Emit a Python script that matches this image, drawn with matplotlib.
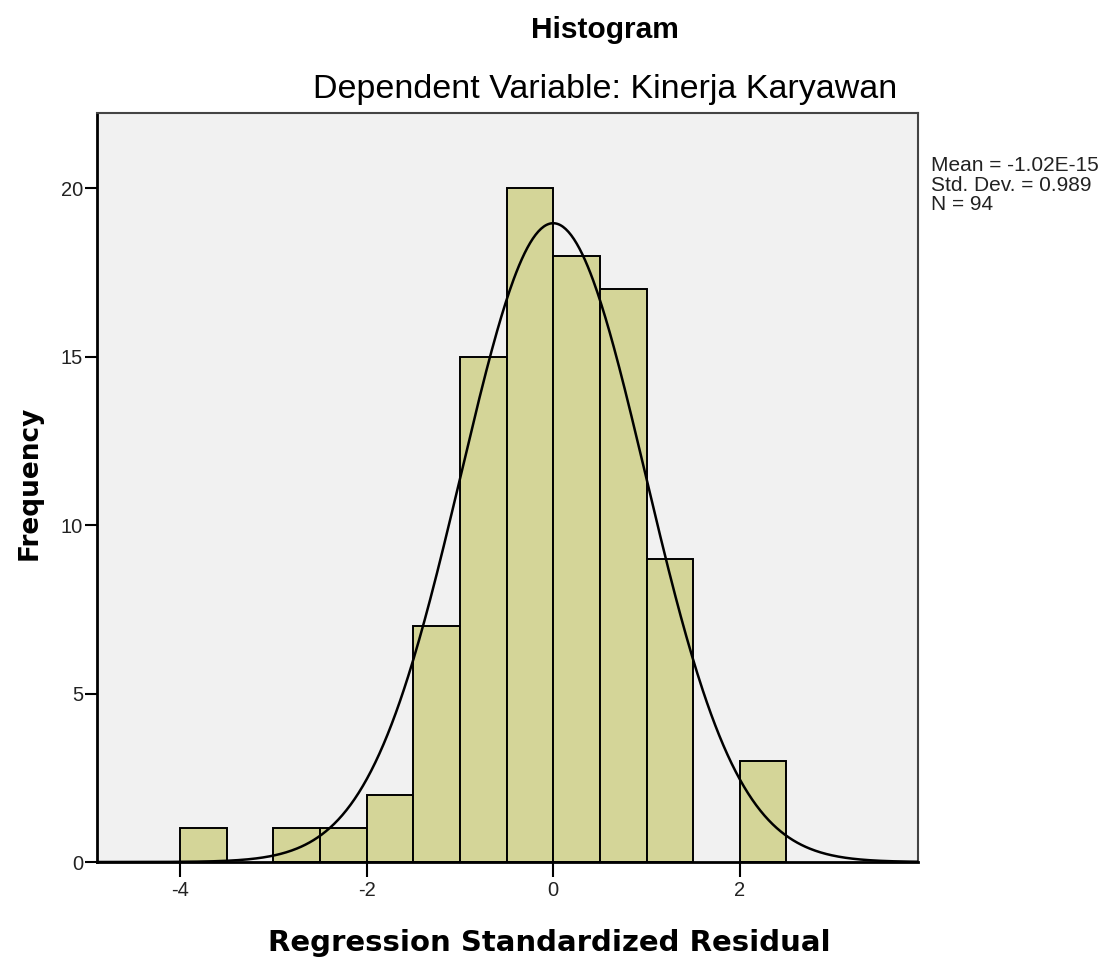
import numpy as np
import matplotlib
matplotlib.use("Agg")
import matplotlib.pyplot as plt

# ---- data ----
bin_lefts = [-4.0, -3.0, -2.5, -2.0, -1.5, -1.0, -0.5, 0.0, 0.5, 1.0, 2.0]
counts = [1, 1, 1, 2, 7, 15, 20, 18, 17, 9, 3]
bin_width = 0.5
mean_val = -1.02e-15
std_val = 0.989
n_val = 94
y_ticks = [0, 5, 10, 15, 20]
x_ticks = [-4, -2, 0, 2]

plt.rcParams['font.family'] = ['Liberation Sans', 'DejaVu Sans']

W, H = 1115, 960
fig = plt.figure(figsize=(W / 100, H / 100), dpi=100)
fig.patch.set_facecolor('white')

ax = fig.add_axes([97 / W, 1 - 862 / H, (918 - 97) / W, (862 - 113) / H])
ax.set_facecolor('#F1F1F1')

ax.bar(bin_lefts, counts, width=bin_width, align='edge',
       color='#D4D598', edgecolor='black', linewidth=1.4, zorder=2)

xmin, xmax = -4.89, 3.91
xs = np.linspace(xmin, xmax, 600)
pdf = n_val * bin_width / (std_val * np.sqrt(2 * np.pi)) * np.exp(-0.5 * ((xs - mean_val) / std_val) ** 2)
ax.plot(xs, pdf, color='black', linewidth=1.8, zorder=3)

ax.set_xlim(xmin, xmax)
ax.set_ylim(0, 22.23)
ax.set_xticks(x_ticks)
ax.set_yticks(y_ticks)
ax.set_xticklabels([str(v) for v in x_ticks])
ax.set_yticklabels([str(v) for v in y_ticks])
ax.tick_params(axis='both', labelsize=14.5, color='black', width=1.5,
               labelcolor='#222222')
ax.tick_params(axis='x', length=10.5, pad=3)
ax.tick_params(axis='y', length=9, pad=1)

for s in ['left', 'bottom']:
    ax.spines[s].set_color('black')
    ax.spines[s].set_linewidth(2)
for s in ['top', 'right']:
    ax.spines[s].set_color('#444444')
    ax.spines[s].set_linewidth(1.5)

fig.text(30 / W, 1 - 483 / H, 'Frequency', family='DejaVu Sans',
         fontsize=19, fontweight='bold', rotation=90, ha='center', va='center')
fig.text(549 / W, 1 - 951 / H, 'Regression Standardized Residual',
         family='DejaVu Sans', fontsize=21, fontweight='bold',
         ha='center', va='baseline')
fig.text(605 / W, 1 - 38 / H, 'Histogram', fontsize=21.5, fontweight='bold',
         ha='center', va='baseline')
fig.text(605 / W, 1 - 98 / H, 'Dependent Variable: Kinerja Karyawan',
         fontsize=24.5, ha='center', va='baseline')

fig.text(931 / W, 1 - 156 / H,
         'Mean = -1.02E-15\nStd. Dev. = 0.989\nN = 94',
         fontsize=15, ha='left', va='top', linespacing=1.05, color='#222222')

fig.savefig('out.png', dpi=100)
